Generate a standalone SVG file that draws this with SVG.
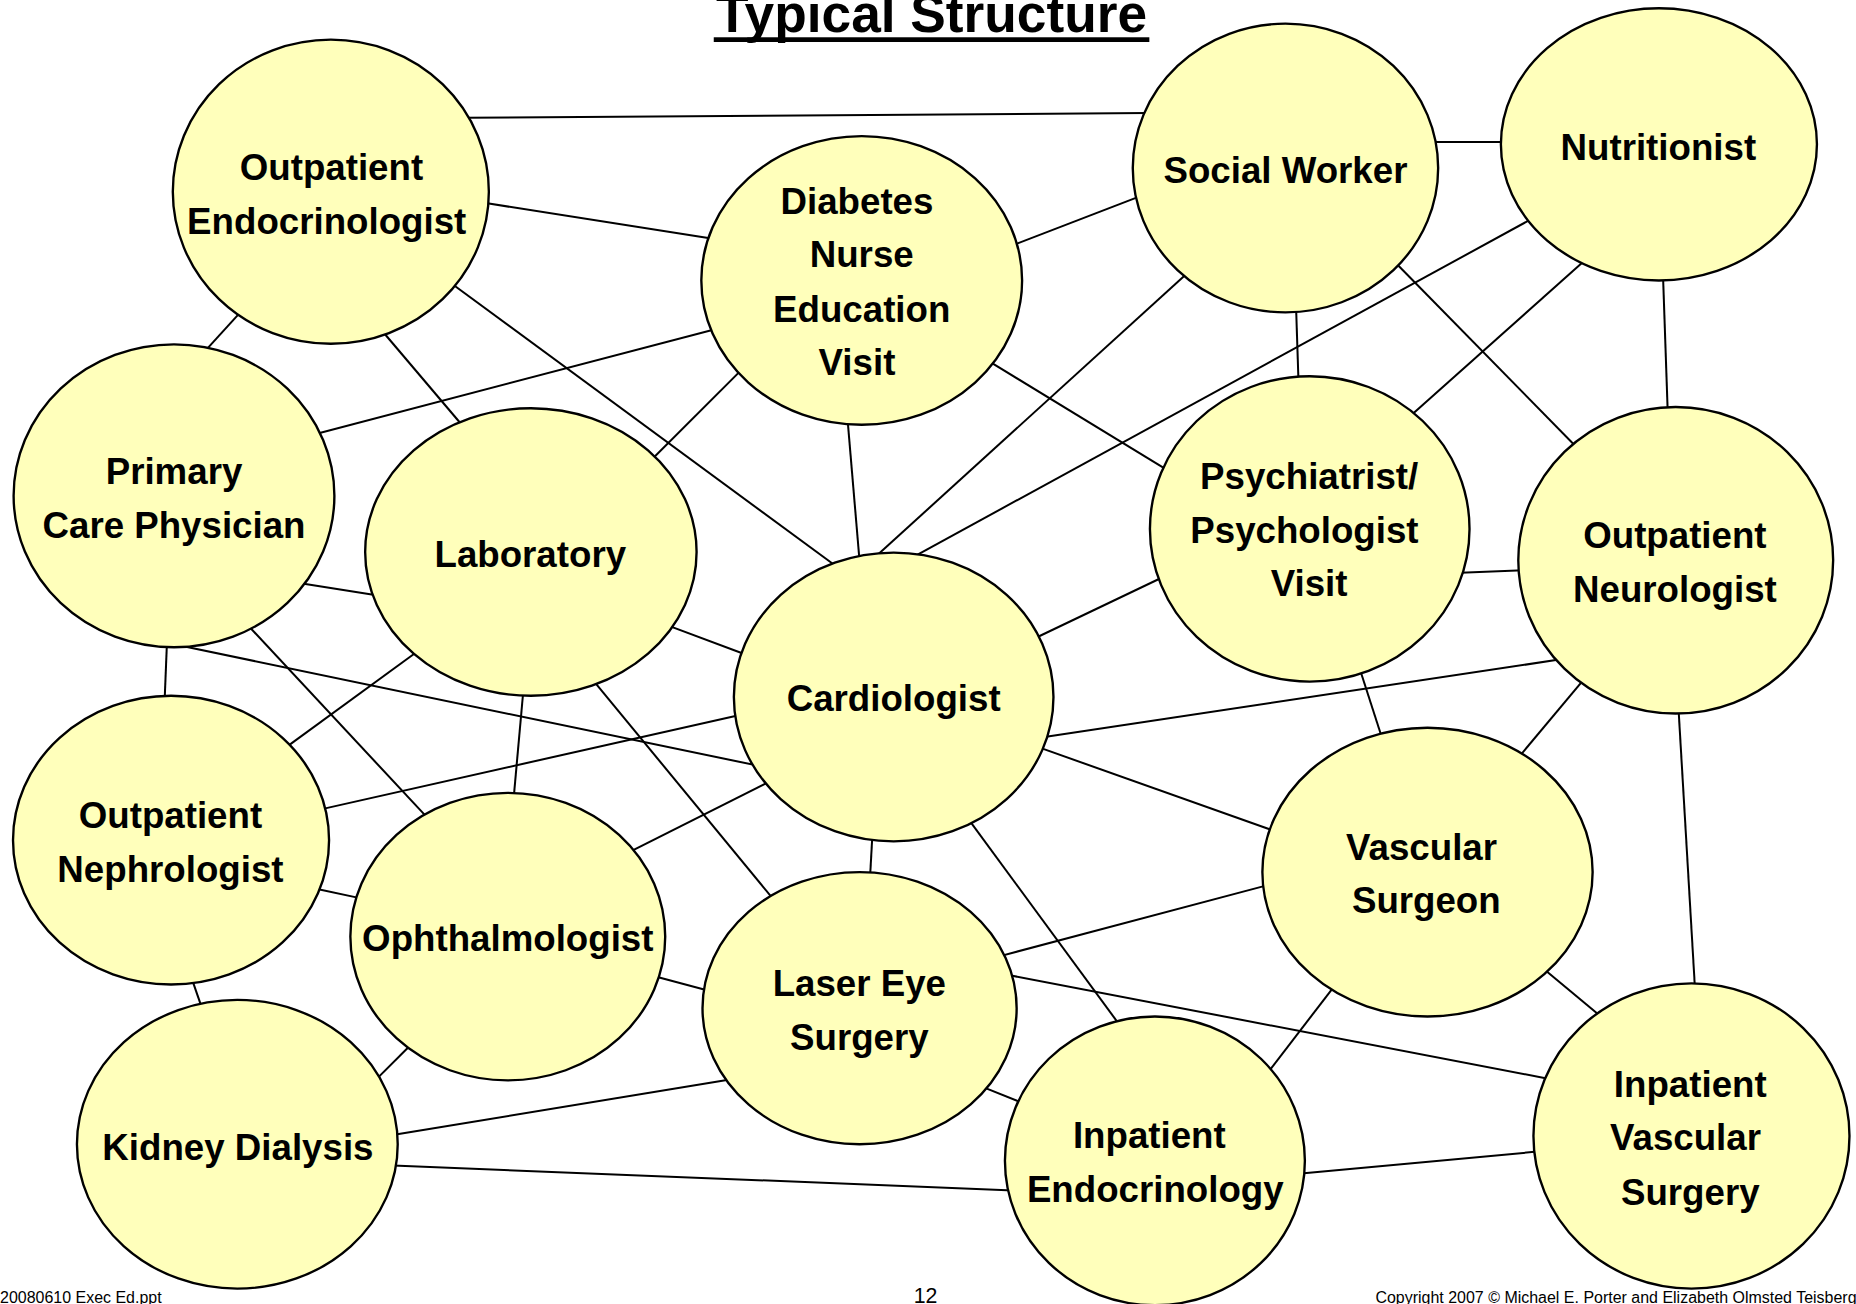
<svg xmlns="http://www.w3.org/2000/svg" width="1856" height="1304" viewBox="0 0 1856 1304">
<style>
.node ellipse{fill:#FFFFBB;stroke:#000;stroke-width:2}
.lbl{font-family:"Liberation Sans",Arial,sans-serif;font-size:31px;font-weight:bold;text-anchor:middle;fill:#000}
#connectors line{stroke:#000;stroke-width:1.7}
.foot{font-family:"Liberation Sans",Arial,sans-serif;font-size:13.5px;fill:#000}
</style>
<rect width="1856" height="1304" fill="#fff"/>
<g transform="scale(1.18367 1.1833)">
<g id="title">
<text x="787" y="27" style="font-family:'Liberation Sans',Arial,sans-serif;font-size:45px;font-weight:bold;text-anchor:middle">Typical Structure</text>
<rect x="603" y="31.5" width="368" height="4" fill="#000"/>
</g>
<g id="connectors">
<line x1="393" y1="99.5" x2="970" y2="95.5"/>
<line x1="409" y1="171.4" x2="601" y2="201.6"/>
<line x1="382" y1="240" x2="707" y2="479"/>
<line x1="324" y1="281" x2="391" y2="360"/>
<line x1="203" y1="264" x2="172" y2="298"/>
<line x1="266" y1="367" x2="605" y2="278"/>
<line x1="626" y1="313" x2="550" y2="389"/>
<line x1="716" y1="354" x2="726" y2="472"/>
<line x1="835" y1="305" x2="989" y2="399"/>
<line x1="855" y1="207.5" x2="964" y2="165.5"/>
<line x1="1209" y1="120" x2="1272" y2="120"/>
<line x1="1003" y1="231" x2="738" y2="472"/>
<line x1="1294" y1="185" x2="771" y2="471"/>
<line x1="1095" y1="261" x2="1097" y2="322"/>
<line x1="1179" y1="222" x2="1333" y2="379"/>
<line x1="1339" y1="220" x2="1191" y2="352"/>
<line x1="1405" y1="234" x2="1409" y2="350"/>
<line x1="1234" y1="484" x2="1287" y2="482"/>
<line x1="984" y1="487" x2="873" y2="540"/>
<line x1="1149" y1="566" x2="1168" y2="625"/>
<line x1="1320" y1="557" x2="881" y2="623"/>
<line x1="1339" y1="573" x2="1283" y2="640"/>
<line x1="1418" y1="598" x2="1432" y2="836"/>
<line x1="254" y1="493" x2="318" y2="503"/>
<line x1="154" y1="546" x2="640" y2="647"/>
<line x1="210" y1="529" x2="361" y2="691"/>
<line x1="141" y1="544" x2="139" y2="594"/>
<line x1="564" y1="528.5" x2="631" y2="553.5"/>
<line x1="352" y1="551" x2="241" y2="632"/>
<line x1="442" y1="585" x2="434" y2="674"/>
<line x1="502" y1="576" x2="655" y2="762"/>
<line x1="626" y1="604" x2="271" y2="684"/>
<line x1="651" y1="660" x2="532" y2="720"/>
<line x1="737" y1="706" x2="735" y2="742"/>
<line x1="818" y1="692" x2="945" y2="865"/>
<line x1="876" y1="631" x2="1076" y2="702"/>
<line x1="267" y1="751" x2="304" y2="759"/>
<line x1="162" y1="827" x2="171" y2="853"/>
<line x1="348" y1="882" x2="317" y2="913"/>
<line x1="553" y1="825" x2="598" y2="837"/>
<line x1="618" y1="912" x2="333" y2="959"/>
<line x1="332" y1="985" x2="856" y2="1006"/>
<line x1="845" y1="808" x2="1071" y2="748"/>
<line x1="852" y1="824" x2="1310" y2="912"/>
<line x1="830" y1="918.5" x2="865" y2="932.5"/>
<line x1="1126" y1="835" x2="1070" y2="908"/>
<line x1="1305" y1="819.5" x2="1353" y2="859.5"/>
<line x1="1097" y1="992" x2="1301" y2="973"/>
</g>
<g id="n-outpatient-endocrinologist" class="node"><ellipse cx="279.5" cy="162" rx="133.5" ry="128.5"/><text class="lbl" x="280" y="152">Outpatient</text><text class="lbl" x="276" y="198">Endocrinologist</text></g>
<g id="n-diabetes-nurse" class="node"><ellipse cx="728" cy="237" rx="135.5" ry="122"/><text class="lbl" x="724" y="181">Diabetes</text><text class="lbl" x="728" y="226">Nurse</text><text class="lbl" x="728" y="272">Education</text><text class="lbl" x="724" y="317">Visit</text></g>
<g id="n-social-worker" class="node"><ellipse cx="1086" cy="142" rx="129" ry="122"/><text class="lbl" x="1086" y="155">Social Worker</text></g>
<g id="n-nutritionist" class="node"><ellipse cx="1401.5" cy="122" rx="133.5" ry="115"/><text class="lbl" x="1401" y="135">Nutritionist</text></g>
<g id="n-primary-care" class="node"><ellipse cx="147" cy="419" rx="135.5" ry="128"/><text class="lbl" x="147" y="409">Primary</text><text class="lbl" x="147" y="455">Care Physician</text></g>
<g id="n-laboratory" class="node"><ellipse cx="448.5" cy="466.5" rx="140" ry="121.5"/><text class="lbl" x="448" y="479">Laboratory</text></g>
<g id="n-psychiatrist" class="node"><ellipse cx="1106.5" cy="447" rx="135" ry="129"/><text class="lbl" x="1106" y="413">Psychiatrist/</text><text class="lbl" x="1102" y="459">Psychologist</text><text class="lbl" x="1106" y="504">Visit</text></g>
<g id="n-outpatient-neurologist" class="node"><ellipse cx="1415.7" cy="473.5" rx="133" ry="129.5"/><text class="lbl" x="1415" y="463">Outpatient</text><text class="lbl" x="1415" y="509">Neurologist</text></g>
<g id="n-cardiologist" class="node"><ellipse cx="755" cy="589" rx="135" ry="122"/><text class="lbl" x="755" y="601">Cardiologist</text></g>
<g id="n-outpatient-nephrologist" class="node"><ellipse cx="144.5" cy="710" rx="133.5" ry="122"/><text class="lbl" x="144" y="700">Outpatient</text><text class="lbl" x="144" y="745">Nephrologist</text></g>
<g id="n-ophthalmologist" class="node"><ellipse cx="429" cy="791.5" rx="133" ry="121.5"/><text class="lbl" x="429" y="804">Ophthalmologist</text></g>
<g id="n-laser-eye-surgery" class="node"><ellipse cx="726.2" cy="852" rx="132.7" ry="115"/><text class="lbl" x="726" y="842">Laser Eye</text><text class="lbl" x="726" y="887">Surgery</text></g>
<g id="n-vascular-surgeon" class="node"><ellipse cx="1206" cy="737" rx="139.5" ry="122"/><text class="lbl" x="1201" y="727">Vascular</text><text class="lbl" x="1205" y="772">Surgeon</text></g>
<g id="n-kidney-dialysis" class="node"><ellipse cx="200.5" cy="967" rx="135.5" ry="122"/><text class="lbl" x="201" y="980">Kidney Dialysis</text></g>
<g id="n-inpatient-endocrinology" class="node"><ellipse cx="975.7" cy="981" rx="126.7" ry="122"/><text class="lbl" x="971" y="970">Inpatient</text><text class="lbl" x="976" y="1016">Endocrinology</text></g>
<g id="n-inpatient-vascular-surgery" class="node"><ellipse cx="1429" cy="960" rx="133.5" ry="129"/><text class="lbl" x="1428" y="927">Inpatient</text><text class="lbl" x="1424" y="972">Vascular</text><text class="lbl" x="1428" y="1018">Surgery</text></g>
<g id="footer">
<text class="foot" x="0" y="1101">20080610 Exec Ed.ppt</text>
<text class="foot" x="782" y="1101" style="font-size:18px;text-anchor:middle">12</text>
<text class="foot" x="1162" y="1101">Copyright 2007 © Michael E. Porter and Elizabeth Olmsted Teisberg</text>
</g>
</g>
</svg>
